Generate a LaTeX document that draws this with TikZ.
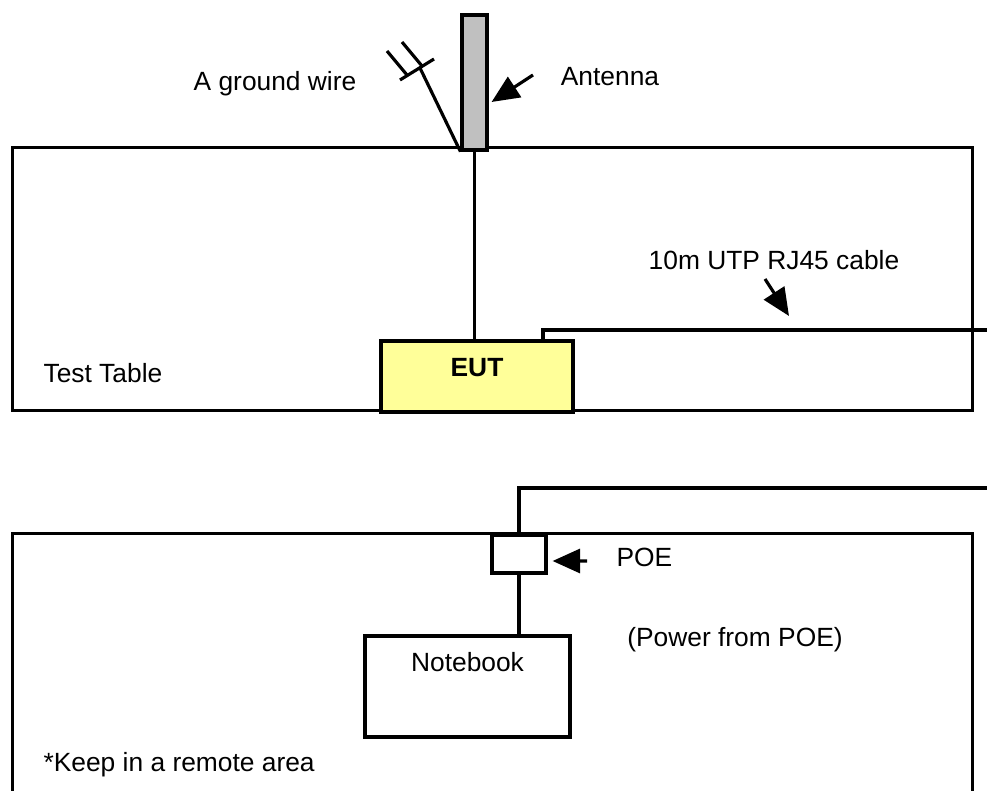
\documentclass[tikz,border=0pt]{standalone}
\usepackage{fontspec}
\setmainfont{Liberation Sans}
\usetikzlibrary{arrows.meta, positioning}
\definecolor{eutYellow}{HTML}{FFFF99}
\definecolor{antGray}{HTML}{C0C0C0}

\begin{document}
\begin{tikzpicture}[
    line width=1.8pt,
    lbl/.style={font=\fontsize{15}{18}\selectfont, inner sep=0pt},
    box/.style={draw, rectangle, inner sep=0pt},
    pointer/.style={-{Triangle[length=0.55cm, width=0.48cm]}}
  ]
  \useasboundingbox (0,0) rectangle (19.74,15.82);

  % test table with the EUT
  \node[box, minimum width=19.2cm, minimum height=5.26cm, anchor=south west] (table) at (0.22,7.58) {};
  \node[box, fill=antGray, minimum width=0.5cm, minimum height=2.7cm] (antenna) at (9.49,14.17) {};
  \node[box, fill=eutYellow, minimum width=3.84cm, minimum height=1.42cm,
    label={[lbl, font=\fontsize{15}{18}\selectfont\bfseries, yshift=0.17cm]center:EUT}] (eut) at (9.54,8.29) {};

  \node[lbl] (gndLabel) at (5.5,14.14) {A ground wire};
  \node[lbl] (antLabel) at (12.2,14.28) {Antenna};
  \node[lbl] (cableLabel) at (15.48,10.62) {10m UTP RJ45 cable};
  \node[lbl, anchor=west] (tableLabel) at (0.84,8.36) {Test Table};

  % ground wire
  \coordinate (gnd) at (8.40,14.46);
  \draw (antenna.south west) -- (gnd);
  \draw (8.00,14.22) -- (8.68,14.64);
  \draw (7.74,14.80) -- (8.14,14.32);
  \draw (8.04,14.98) -- (8.44,14.50);

  \draw (antenna.south) -- (antenna.south |- eut.north);
  \coordinate (cableEnd) at (19.74,9.22);
  \draw ([xshift=1.32cm]eut.north) |- (cableEnd);

  \coordinate (antTail) at (10.66,14.32);
  \draw[pointer] (antTail) -- ([shift={(0.06,-0.39)}]antenna.east);
  \coordinate (cableTail) at (15.3,10.24);
  \coordinate (cableTip) at (15.78,9.5);
  \draw[pointer] (cableTail) -- (cableTip);

  % remote area
  \node[box, minimum width=19.2cm, minimum height=6cm, anchor=north west] (remote) at (0.22,5.18) {};
  \node[box, fill=white, minimum width=1.08cm, minimum height=0.76cm] (poe) at (10.38,4.74) {};
  \node[box, minimum width=4.1cm, minimum height=2.02cm,
    label={[lbl, anchor=center, yshift=-0.56cm]north:Notebook}] (notebook) at (9.35,2.09) {};

  \node[lbl, anchor=west] (poeLabel) at (12.3,4.68) {POE};
  \node[lbl] (powerLabel) at (14.7,3.02) {(Power from POE)};
  \node[lbl, anchor=west] (remoteLabel) at (0.84,0.52) {*Keep in a remote area};

  \coordinate (poeEnd) at (19.74,6.06);
  \draw (poeEnd) -| (poe.north);
  \draw (poe.south) -- (poe.south |- notebook.north);

  \coordinate (poeTail) at (11.74,4.6);
  \draw[pointer] (poeTail) -- ([shift={(0.1,-0.14)}]poe.east);
\end{tikzpicture}
\end{document}
